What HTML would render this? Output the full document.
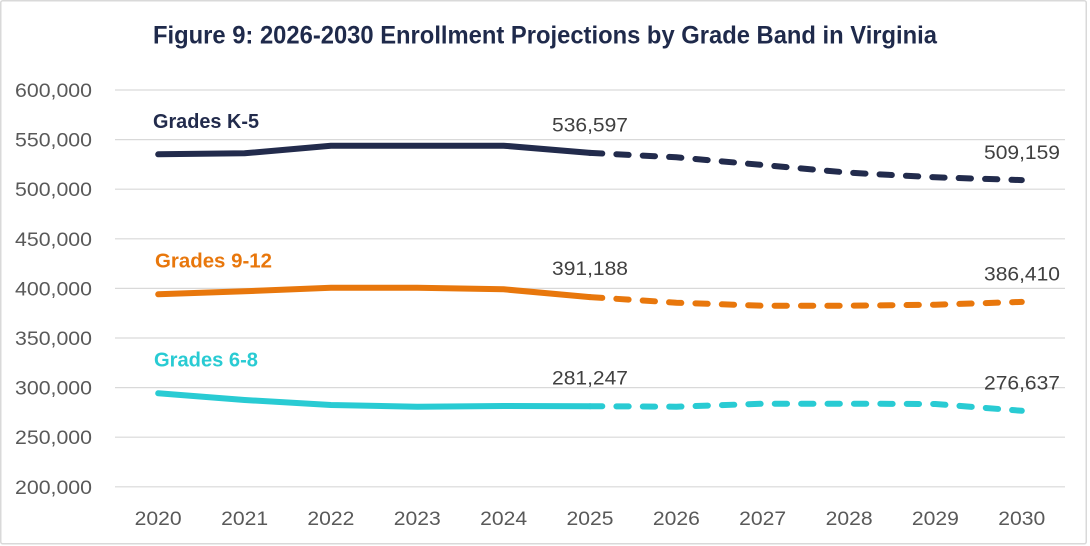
<!DOCTYPE html>
<html>
<head>
<meta charset="utf-8">
<style>
  html, body { margin: 0; padding: 0; background: #ffffff; }
  svg { display: block; }
  text { font-family: "Liberation Sans", Arial, sans-serif; }
</style>
</head>
<body>
<svg width="1090" height="546" viewBox="0 0 1090 546" xmlns="http://www.w3.org/2000/svg">
  <rect x="0" y="0" width="1090" height="546" fill="#ffffff"/>
  <rect x="0.75" y="0.75" width="1085.5" height="543" rx="2" fill="#ffffff" stroke="#d9d9d9" stroke-width="1.5"/>

  <!-- Title -->
  <text x="153" y="43.3" font-size="25" font-weight="bold" fill="#1f2a4b" textLength="784" lengthAdjust="spacingAndGlyphs">Figure 9: 2026-2030 Enrollment Projections by Grade Band in Virginia</text>

  <!-- Gridlines -->
  <g stroke="#d9d9d9" stroke-width="1.2">
    <line x1="115" y1="90" x2="1065" y2="90"/>
    <line x1="115" y1="139.6" x2="1065" y2="139.6"/>
    <line x1="115" y1="189.2" x2="1065" y2="189.2"/>
    <line x1="115" y1="238.8" x2="1065" y2="238.8"/>
    <line x1="115" y1="288.4" x2="1065" y2="288.4"/>
    <line x1="115" y1="338" x2="1065" y2="338"/>
    <line x1="115" y1="387.6" x2="1065" y2="387.6"/>
    <line x1="115" y1="437.2" x2="1065" y2="437.2"/>
    <line x1="115" y1="486.8" x2="1065" y2="486.8"/>
  </g>

  <!-- Y axis labels -->
  <g font-size="19" fill="#595959" text-anchor="end">
    <text x="92" y="97" textLength="77" lengthAdjust="spacingAndGlyphs">600,000</text>
    <text x="92" y="146.6" textLength="77" lengthAdjust="spacingAndGlyphs">550,000</text>
    <text x="92" y="196.2" textLength="77" lengthAdjust="spacingAndGlyphs">500,000</text>
    <text x="92" y="245.8" textLength="77" lengthAdjust="spacingAndGlyphs">450,000</text>
    <text x="92" y="295.4" textLength="77" lengthAdjust="spacingAndGlyphs">400,000</text>
    <text x="92" y="345" textLength="77" lengthAdjust="spacingAndGlyphs">350,000</text>
    <text x="92" y="394.6" textLength="77" lengthAdjust="spacingAndGlyphs">300,000</text>
    <text x="92" y="444.2" textLength="77" lengthAdjust="spacingAndGlyphs">250,000</text>
    <text x="92" y="493.8" textLength="77" lengthAdjust="spacingAndGlyphs">200,000</text>
  </g>

  <!-- X axis labels -->
  <g font-size="19" fill="#595959" text-anchor="middle">
    <text x="158.2" y="525" textLength="47" lengthAdjust="spacingAndGlyphs">2020</text>
    <text x="244.6" y="525" textLength="47" lengthAdjust="spacingAndGlyphs">2021</text>
    <text x="330.9" y="525" textLength="47" lengthAdjust="spacingAndGlyphs">2022</text>
    <text x="417.3" y="525" textLength="47" lengthAdjust="spacingAndGlyphs">2023</text>
    <text x="503.6" y="525" textLength="47" lengthAdjust="spacingAndGlyphs">2024</text>
    <text x="590.0" y="525" textLength="47" lengthAdjust="spacingAndGlyphs">2025</text>
    <text x="676.4" y="525" textLength="47" lengthAdjust="spacingAndGlyphs">2026</text>
    <text x="762.7" y="525" textLength="47" lengthAdjust="spacingAndGlyphs">2027</text>
    <text x="849.1" y="525" textLength="47" lengthAdjust="spacingAndGlyphs">2028</text>
    <text x="935.4" y="525" textLength="47" lengthAdjust="spacingAndGlyphs">2029</text>
    <text x="1021.8" y="525" textLength="47" lengthAdjust="spacingAndGlyphs">2030</text>
  </g>

  <!-- Series: K-5 -->
  <g fill="none" stroke="#222b4c" stroke-width="6" stroke-linecap="round" stroke-linejoin="round">
    <polyline points="158.2,154.3 244.6,153.3 330.9,145.7 417.3,145.7 503.6,145.7 590.0,152.9"/>
    <polyline points="590.0,152.9 676.4,157.3 762.7,165 849.1,172.7 935.4,177.3 1021.8,180.1" stroke-dasharray="12.3 14.1"/>
  </g>

  <!-- Series: 9-12 -->
  <g fill="none" stroke="#e8770c" stroke-width="6" stroke-linecap="round" stroke-linejoin="round">
    <polyline points="158.2,294.3 244.6,291.3 330.9,287.7 417.3,287.7 503.6,289.3 590.0,297.1"/>
    <polyline points="590.0,297.1 676.4,302.7 762.7,305.7 849.1,305.7 935.4,304.7 1021.8,301.9" stroke-dasharray="12.3 14.1"/>
  </g>

  <!-- Series: 6-8 -->
  <g fill="none" stroke="#29cbd3" stroke-width="6" stroke-linecap="round" stroke-linejoin="round">
    <polyline points="158.2,393.3 244.6,400 330.9,405 417.3,406.7 503.6,406 590.0,406.2"/>
    <polyline points="590.0,406.2 676.4,406.7 762.7,403.7 849.1,403.7 935.4,404 1021.8,410.8" stroke-dasharray="12.3 14.1"/>
  </g>

  <!-- Series labels -->
  <g font-size="20" font-weight="bold">
    <text x="153" y="128" fill="#222b4c" textLength="106" lengthAdjust="spacingAndGlyphs">Grades K-5</text>
    <text x="155" y="267.7" fill="#e8770c" textLength="117" lengthAdjust="spacingAndGlyphs">Grades 9-12</text>
    <text x="154" y="366.7" fill="#29cbd3" textLength="104" lengthAdjust="spacingAndGlyphs">Grades 6-8</text>
  </g>

  <!-- Data labels -->
  <g font-size="19" fill="#404040">
    <text x="552" y="131.7" textLength="76" lengthAdjust="spacingAndGlyphs">536,597</text>
    <text x="552" y="275" textLength="76" lengthAdjust="spacingAndGlyphs">391,188</text>
    <text x="552" y="384.5" textLength="76" lengthAdjust="spacingAndGlyphs">281,247</text>
    <text x="984" y="159" textLength="76" lengthAdjust="spacingAndGlyphs">509,159</text>
    <text x="984" y="280.7" textLength="76" lengthAdjust="spacingAndGlyphs">386,410</text>
    <text x="984" y="389.3" textLength="76" lengthAdjust="spacingAndGlyphs">276,637</text>
  </g>
</svg>
</body>
</html>
